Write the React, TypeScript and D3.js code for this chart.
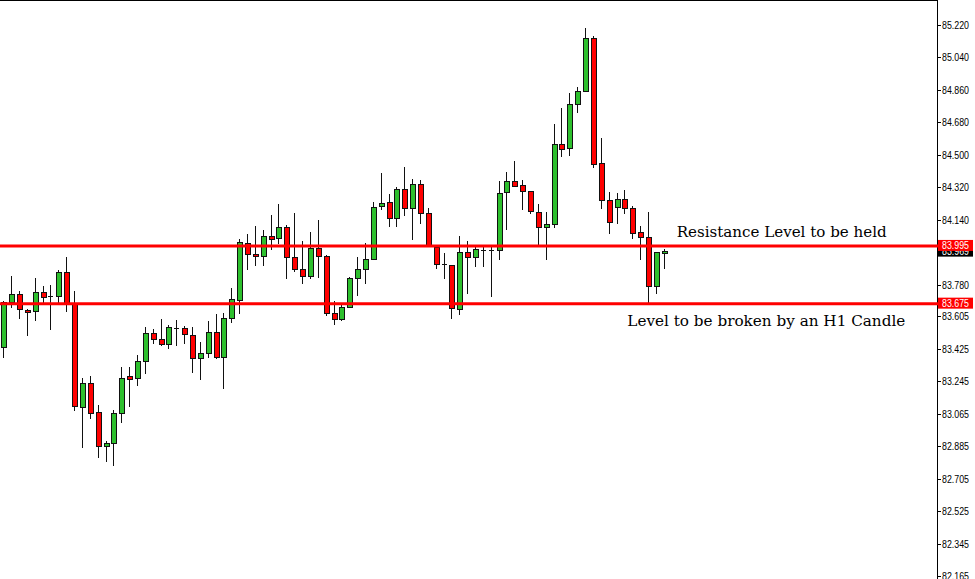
import * as d3 from 'd3'

const opens = [
  83.433, 83.682, 83.728, 83.640, 83.634, 83.737, 83.715, 83.715, 83.848, 83.677,
  83.103, 83.233, 83.072, 82.887, 82.900, 83.066, 83.272, 83.262, 83.357, 83.511,
  83.478, 83.450, 83.538, 83.538, 83.499, 83.372, 83.400, 83.516, 83.378, 83.594,
  83.695, 84.009, 83.950, 83.939, 84.048, 84.037, 84.098, 83.932, 83.869, 83.830,
  83.981, 83.939, 83.625, 83.588, 83.658, 83.815, 83.869, 83.922, 84.216, 84.239,
  84.148, 84.309, 84.204, 84.337, 84.179, 83.990, 83.894, 83.889, 83.645, 83.959,
  83.932, 83.972, 83.972, 83.972, 84.292, 84.357, 84.331, 84.298, 84.185, 84.098,
  84.115, 84.560, 84.540, 84.780, 84.852, 85.146, 84.453, 84.250, 84.213, 84.255,
  84.204, 84.070, 84.043, 83.775, 83.957,
]

const highs = [
  83.691, 83.828, 83.745, 83.645, 83.815, 83.772, 83.777, 83.861, 83.935, 83.745,
  83.261, 83.275, 83.112, 82.913, 83.084, 83.325, 83.325, 83.390, 83.544, 83.535,
  83.589, 83.556, 83.584, 83.550, 83.545, 83.461, 83.578, 83.617, 83.621, 83.760,
  84.035, 84.061, 84.105, 84.083, 84.166, 84.225, 84.111, 84.175, 84.022, 84.070,
  84.139, 83.945, 83.689, 83.667, 83.822, 83.935, 84.012, 84.241, 84.398, 84.281,
  84.323, 84.431, 84.366, 84.361, 84.204, 83.994, 83.957, 83.889, 84.048, 84.025,
  83.987, 83.987, 83.987, 84.355, 84.403, 84.464, 84.361, 84.298, 84.228, 84.185,
  84.671, 84.758, 84.845, 84.875, 85.202, 85.159, 84.592, 84.296, 84.287, 84.305,
  84.216, 84.105, 84.181, 83.963, 83.979,
]

const lows = [
  83.378, 83.658, 83.594, 83.501, 83.584, 83.680, 83.532, 83.677, 83.636, 83.084,
  82.881, 83.042, 82.826, 82.804, 82.780, 83.019, 83.108, 83.224, 83.289, 83.459,
  83.446, 83.431, 83.444, 83.455, 83.295, 83.257, 83.381, 83.374, 83.209, 83.575,
  83.625, 83.865, 83.889, 83.889, 83.976, 84.009, 83.819, 83.858, 83.791, 83.819,
  83.824, 83.610, 83.562, 83.584, 83.655, 83.722, 83.791, 83.922, 84.202, 84.106,
  84.106, 84.166, 84.033, 84.120, 83.994, 83.871, 83.815, 83.597, 83.617, 83.736,
  83.883, 83.883, 83.717, 83.920, 84.089, 84.326, 84.200, 84.179, 83.994, 83.920,
  84.098, 84.494, 84.499, 84.736, 84.852, 84.434, 84.204, 84.068, 84.124, 84.176,
  84.041, 83.920, 83.677, 83.736, 83.871,
]

const closes = [
  83.682, 83.728, 83.643, 83.627, 83.737, 83.713, 83.715, 83.848, 83.677, 83.108,
  83.233, 83.066, 82.887, 82.900, 83.066, 83.264, 83.259, 83.357, 83.511, 83.478,
  83.450, 83.544, 83.538, 83.505, 83.372, 83.400, 83.516, 83.378, 83.594, 83.700,
  84.018, 83.950, 83.939, 84.048, 84.031, 84.098, 83.932, 83.869, 83.830, 83.981,
  83.939, 83.625, 83.588, 83.658, 83.820, 83.869, 83.922, 84.210, 84.233, 84.148,
  84.309, 84.204, 84.337, 84.179, 83.996, 83.896, 83.894, 83.649, 83.959, 83.932,
  83.976, 83.972, 83.972, 84.288, 84.357, 84.326, 84.298, 84.190, 84.098, 84.115,
  84.560, 84.534, 84.780, 84.852, 85.146, 84.449, 84.250, 84.126, 84.255, 84.204,
  84.065, 84.043, 83.775, 83.963, 83.969,
]

const tickLabels = [
  '85.220', '85.040', '84.860', '84.680', '84.500', '84.320', '84.140', '83.780',
  '83.605', '83.425', '83.245', '83.065', '82.885', '82.705', '82.525', '82.345', '82.165',
]

const levels = [83.995, 83.675]
const levelNotes = ['Resistance Level to be held', 'Level to be broken by an H1 Candle']
const currentPrice = 83.969

const W = 975
const H = 579
const axisX = 937

export default function App() {
  const y = d3.scaleLinear().domain([82.165, 85.22]).range([576, 25])
  const x = d3.scaleLinear().domain([0, opens.length - 1]).range([3.3, 663.7])

  const candles = d3.range(opens.length).map(i => {
    const o = opens[i], c = closes[i]
    const px = Math.round(x(i))
    const top = Math.round(y(Math.max(o, c)))
    const bot = Math.round(y(Math.min(o, c)))
    return {
      i, px, top, bot,
      hi: Math.round(y(highs[i])),
      lo: Math.round(y(lows[i])),
      kind: c > o ? 'up' : c < o ? 'down' : 'doji',
    }
  })

  const labelFont = '"Liberation Sans", Arial, sans-serif'
  const noteFont = '"DejaVu Serif", serif'

  return (
    <svg
      width={W}
      height={H}
      style={{ position: 'absolute', left: 0, top: 0, background: '#fff' }}
    >
      <rect width={W} height={H} fill="#fff" />

      {/* chart frame */}
      <line x1={0} x2={axisX} y1={0.5} y2={0.5} stroke="#000" />
      <line x1={axisX + 0.5} x2={axisX + 0.5} y1={0} y2={H} stroke="#000" />

      {/* candles */}
      <g shapeRendering="crispEdges">
        {candles.map(d => (
          <g key={d.i}>
            <line x1={d.px + 0.5} x2={d.px + 0.5} y1={d.hi} y2={d.lo + 1} stroke="#111" />
            {d.kind === 'doji' ? (
              <line x1={d.px - 2} x2={d.px + 3} y1={d.top + 0.5} y2={d.top + 0.5} stroke="#111" />
            ) : (
              <rect
                x={d.px - 2}
                y={d.top + 0.5}
                width={5}
                height={Math.max(1, d.bot - d.top)}
                fill={d.kind === 'up' ? '#2ec02e' : '#ff0000'}
                stroke="#111"
              />
            )}
          </g>
        ))}
      </g>

      {/* price axis ticks */}
      {tickLabels.map(t => {
        const ty = Math.round(y(+t)) + 0.5
        return (
          <g key={t}>
            <line x1={axisX + 1} x2={axisX + 4} y1={ty} y2={ty} stroke="#000" />
            <text
              x={942}
              y={ty + 3.5}
              fontFamily={labelFont}
              fontSize={10}
              textLength={27}
              lengthAdjust="spacingAndGlyphs"
              fill="#000"
            >
              {t}
            </text>
          </g>
        )
      })}

      {/* current price tag */}
      <g>
        <rect x={axisX + 1} y={y(currentPrice) - 5} width={35} height={11} fill="#000" />
        <text
          x={942}
          y={y(currentPrice) + 4}
          fontFamily={labelFont}
          fontSize={10}
          textLength={27}
          lengthAdjust="spacingAndGlyphs"
          fill="#fff"
        >
          {currentPrice.toFixed(3)}
        </text>
      </g>

      {/* horizontal levels */}
      {levels.map((lv, k) => {
        const ly = y(lv)
        return (
          <g key={lv}>
            <line x1={0} x2={axisX + 2} y1={ly} y2={ly} stroke="#ff0000" strokeWidth={3} />
            <rect x={axisX + 1} y={ly - 6} width={35} height={11} fill="#ff0000" />
            <text
              x={942}
              y={ly + 3.5}
              fontFamily={labelFont}
              fontSize={10}
              textLength={27}
              lengthAdjust="spacingAndGlyphs"
              fill="#fff"
            >
              {lv.toFixed(3)}
            </text>
            <text
              x={k === 0 ? 676.7 : 627.3}
              y={k === 0 ? ly - 8.5 : ly + 22}
              fontFamily={noteFont}
              fontSize={15}
              textLength={k === 0 ? 210 : 278}
              lengthAdjust="spacingAndGlyphs"
              fill="#000"
            >
              {levelNotes[k]}
            </text>
          </g>
        )
      })}
    </svg>
  )
}
